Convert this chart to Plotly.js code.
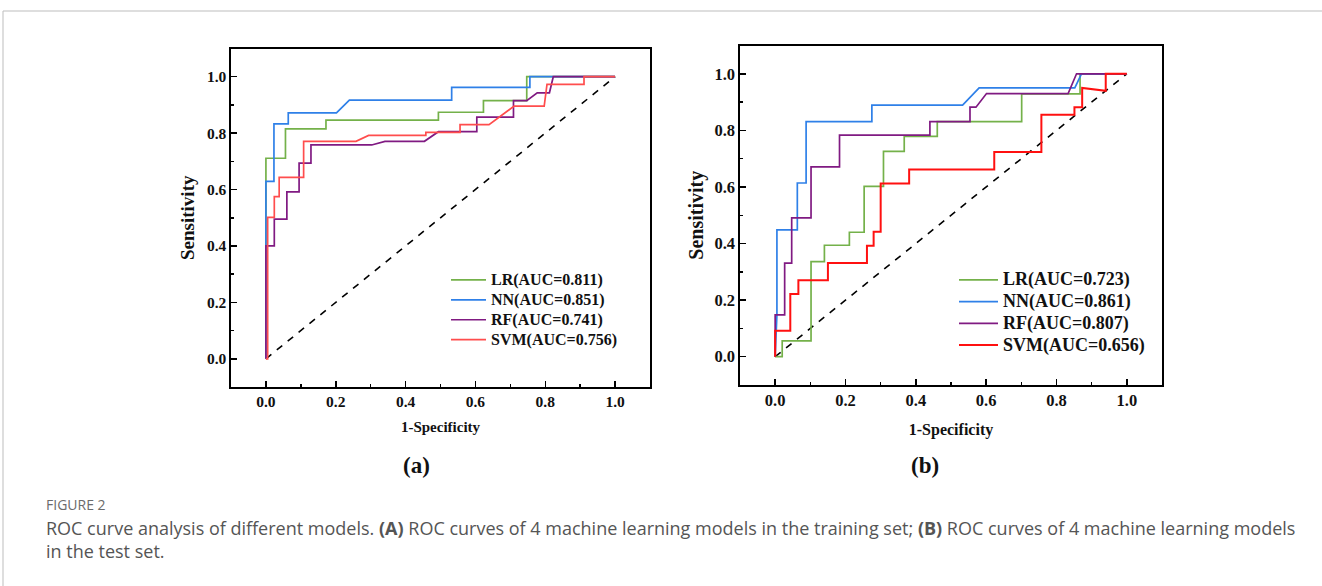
<!DOCTYPE html>
<html>
<head>
<meta charset="utf-8">
<script src="https://cdn.plot.ly/plotly-3.0.1.min.js"></script>
<style>
  html, body { margin: 0; padding: 0; background: #fff; }
  #chart { width: 1322px; height: 586px; }
</style>
</head>
<body>
<div id="chart"></div>
<script>
// ---------- Data: (a) training set ----------
const lrTrainX  = [0, 0, 0.056, 0.056, 0.172, 0.172, 0.494, 0.494, 0.623, 0.623, 0.747, 0.747, 1];
const lrTrainY  = [0, 0.711, 0.711, 0.815, 0.815, 0.846, 0.846, 0.874, 0.874, 0.915, 0.915, 1, 1];
const nnTrainX  = [0, 0, 0.023, 0.023, 0.064, 0.064, 0.202, 0.239, 0.532, 0.532, 0.756, 0.756, 1];
const nnTrainY  = [0, 0.629, 0.629, 0.833, 0.833, 0.872, 0.872, 0.917, 0.917, 0.962, 0.962, 1, 1];
const rfTrainX  = [0, 0, 0.024, 0.024, 0.060, 0.060, 0.095, 0.095, 0.129, 0.129, 0.303, 0.341, 0.454, 0.494, 0.604, 0.604, 0.709, 0.709, 0.747, 0.777, 0.812, 0.823, 1];
const rfTrainY  = [0, 0.400, 0.400, 0.495, 0.495, 0.592, 0.592, 0.694, 0.694, 0.758, 0.758, 0.771, 0.771, 0.805, 0.805, 0.857, 0.857, 0.915, 0.915, 0.943, 0.943, 1, 1];
const svmTrainX = [0, 0.005, 0.005, 0.024, 0.024, 0.038, 0.038, 0.108, 0.108, 0.258, 0.294, 0.458, 0.458, 0.556, 0.556, 0.639, 0.711, 0.797, 0.805, 0.911, 0.911, 1];
const svmTrainY = [0, 0, 0.501, 0.501, 0.575, 0.575, 0.643, 0.643, 0.771, 0.771, 0.792, 0.792, 0.803, 0.803, 0.830, 0.830, 0.896, 0.896, 0.973, 0.973, 1, 1];

// ---------- Data: (b) test set ----------
const lrTestX  = [0, 0.020, 0.020, 0.102, 0.102, 0.140, 0.140, 0.211, 0.211, 0.253, 0.253, 0.308, 0.308, 0.367, 0.367, 0.461, 0.461, 0.701, 0.701, 0.867, 0.867, 1];
const lrTestY  = [0, 0, 0.056, 0.056, 0.336, 0.336, 0.394, 0.394, 0.440, 0.440, 0.602, 0.602, 0.726, 0.726, 0.779, 0.779, 0.831, 0.831, 0.929, 0.929, 1, 1];
const nnTestX  = [0, 0.005, 0.005, 0.063, 0.063, 0.088, 0.088, 0.275, 0.275, 0.533, 0.580, 0.852, 0.871, 1];
const nnTestY  = [0, 0.148, 0.448, 0.448, 0.614, 0.614, 0.831, 0.831, 0.889, 0.889, 0.950, 0.950, 1, 1];
const rfTestX  = [0, 0, 0.027, 0.027, 0.047, 0.047, 0.102, 0.102, 0.183, 0.183, 0.440, 0.440, 0.554, 0.554, 0.571, 0.601, 0.833, 0.857, 1];
const rfTestY  = [0, 0.148, 0.148, 0.331, 0.331, 0.491, 0.491, 0.671, 0.671, 0.783, 0.783, 0.831, 0.831, 0.882, 0.882, 0.930, 0.930, 1, 1];
const svmTestX = [0, 0, 0.043, 0.043, 0.066, 0.066, 0.150, 0.150, 0.261, 0.261, 0.280, 0.280, 0.300, 0.300, 0.381, 0.381, 0.623, 0.623, 0.757, 0.757, 0.851, 0.851, 0.873, 0.873, 0.940, 0.940, 1];
const svmTestY = [0, 0.092, 0.092, 0.222, 0.222, 0.270, 0.270, 0.331, 0.331, 0.392, 0.392, 0.442, 0.442, 0.612, 0.612, 0.662, 0.662, 0.724, 0.724, 0.855, 0.855, 0.882, 0.882, 0.950, 0.940, 1, 1];

// Reference (chance) line
const refX = [0, 1];
const refY = [0, 1];

const trainNames = ['LR(AUC=0.811)', 'NN(AUC=0.851)', 'RF(AUC=0.741)', 'SVM(AUC=0.756)'];
const testNames  = ['LR(AUC=0.723)', 'NN(AUC=0.861)', 'RF(AUC=0.807)', 'SVM(AUC=0.656)'];

const SERIF = 'Liberation Serif, Times New Roman, serif';
const SANS = 'Open Sans, Noto Sans, sans-serif';
const cGreen = '#74B14A', cBlue = '#2F80E8', cPurple = '#801A82', cRedA = '#FF4D4D', cRedB = '#FF1010';

// legend labels drawn at a larger size than the (compact) legend row font
const big = (s, size) => '<span style="font-size:' + size + 'px">' + s + '</span>';

function line(x, y, name, color, xa, ya, leg, w) {
  return { x: x, y: y, name: name, type: 'scatter', mode: 'lines',
           line: { color: color, width: w || 1.7 }, xaxis: xa, yaxis: ya, legend: leg,
           hoverinfo: 'skip' };
}

const traces = [
  { x: refX, y: refY, type: 'scatter', mode: 'lines', showlegend: false, hoverinfo: 'skip',
    line: { color: '#000', width: 1.6, dash: '7px,7px' }, xaxis: 'x', yaxis: 'y' },
  line(lrTrainX, lrTrainY, big(trainNames[0], 16), cGreen, 'x', 'y', 'legend'),
  line(nnTrainX, nnTrainY, big(trainNames[1], 16), cBlue, 'x', 'y', 'legend'),
  line(rfTrainX, rfTrainY, big(trainNames[2], 16), cPurple, 'x', 'y', 'legend'),
  line(svmTrainX, svmTrainY, big(trainNames[3], 16), cRedA, 'x', 'y', 'legend'),

  { x: refX, y: refY, type: 'scatter', mode: 'lines', showlegend: false, hoverinfo: 'skip',
    line: { color: '#000', width: 1.6, dash: '7px,7px' }, xaxis: 'x2', yaxis: 'y2' },
  line(lrTestX, lrTestY, big(testNames[0], 18), cGreen, 'x2', 'y2', 'legend2'),
  line(nnTestX, nnTestY, big(testNames[1], 18), cBlue, 'x2', 'y2', 'legend2'),
  line(rfTestX, rfTestY, big(testNames[2], 18), cPurple, 'x2', 'y2', 'legend2'),
  line(svmTestX, svmTestY, big(testNames[3], 18), cRedB, 'x2', 'y2', 'legend2', 2)
];

function axis(domain, anchor, title, tsize, titleSize, standoff) {
  return {
    domain: domain, anchor: anchor, range: [-0.1, 1.1], tick0: 0, dtick: 0.2, tickformat: '.1f',
    ticks: 'inside', ticklen: 6, tickwidth: 1.5, tickcolor: '#000',
    minor: { dtick: 0.1, ticks: 'inside', ticklen: 3, tickwidth: 1.5, tickcolor: '#000' },
    showline: true, linecolor: '#000', linewidth: 1.6, mirror: true,
    showgrid: false, zeroline: false, fixedrange: true,
    tickfont: { family: SERIF, size: tsize, color: '#111', weight: 700 },
    title: { text: title, font: { family: SERIF, size: titleSize, color: '#111', weight: 700 }, standoff: standoff }
  };
}

const W = 1322, H = 586;
const px = v => v / W;
const py = v => 1 - v / H;

const layout = {
  width: W, height: H,
  margin: { l: 0, r: 0, t: 0, b: 0 },
  paper_bgcolor: '#fff', plot_bgcolor: '#fff',
  showlegend: true,
  xaxis:  axis([px(231), px(650)], 'y', '1-Specificity', 15.5, 15, 12),
  yaxis:  axis([py(387), py(48.5)], 'x', 'Sensitivity', 15.5, 19, 7),
  xaxis2: axis([px(740), px(1162)], 'y2', '1-Specificity', 16.5, 16, 14),
  yaxis2: axis([py(385), py(45.5)], 'x2', 'Sensitivity', 16.5, 20, 5),
  legend: {
    x: px(446), y: py(265), xanchor: 'left', yanchor: 'top', itemwidth: 35,
    bgcolor: 'rgba(0,0,0,0)', borderwidth: 0, tracegroupgap: 0,
    font: { family: SERIF, size: 13, color: '#111', weight: 700 }
  },
  legend2: {
    x: px(954), y: py(264), xanchor: 'left', yanchor: 'top', itemwidth: 39,
    bgcolor: 'rgba(0,0,0,0)', borderwidth: 0, tracegroupgap: 0,
    font: { family: SERIF, size: 14.4, color: '#111', weight: 700 }
  },
  shapes: [
    { type: 'line', xref: 'paper', yref: 'paper', x0: px(3), x1: 1, y0: py(11), y1: py(11), line: { color: '#BDBDBD', width: 1 } },
    { type: 'line', xref: 'paper', yref: 'paper', x0: px(3), x1: px(3), y0: py(11), y1: 0, line: { color: '#BDBDBD', width: 1 } }
  ],
  annotations: [
    { text: '(a)', xref: 'paper', yref: 'paper', x: px(417), y: py(465), xanchor: 'center', yanchor: 'middle', showarrow: false,
      font: { family: SERIF, size: 23, color: '#111', weight: 700 } },
    { text: '(b)', xref: 'paper', yref: 'paper', x: px(925), y: py(465), xanchor: 'center', yanchor: 'middle', showarrow: false,
      font: { family: SERIF, size: 23, color: '#111', weight: 700 } },
    { text: 'FIGURE 2', xref: 'paper', yref: 'paper', x: px(44), y: py(504), xanchor: 'left', yanchor: 'middle', showarrow: false,
      font: { family: SANS, size: 14, color: '#6b6b6b' } },
    { text: 'ROC curve analysis of different models. <b>(A)</b> ROC curves of 4 machine learning models in the training set; <b>(B)</b> ROC curves of 4 machine learning models',
      xref: 'paper', yref: 'paper', x: px(44), y: py(528), xanchor: 'left', yanchor: 'middle', showarrow: false,
      font: { family: SANS, size: 18, color: '#555' } },
    { text: 'in the test set.', xref: 'paper', yref: 'paper', x: px(44), y: py(551), xanchor: 'left', yanchor: 'middle', showarrow: false,
      font: { family: SANS, size: 18, color: '#555' } }
  ]
};

Plotly.newPlot('chart', traces, layout, { staticPlot: true, displayModeBar: false });
</script>
</body>
</html>
